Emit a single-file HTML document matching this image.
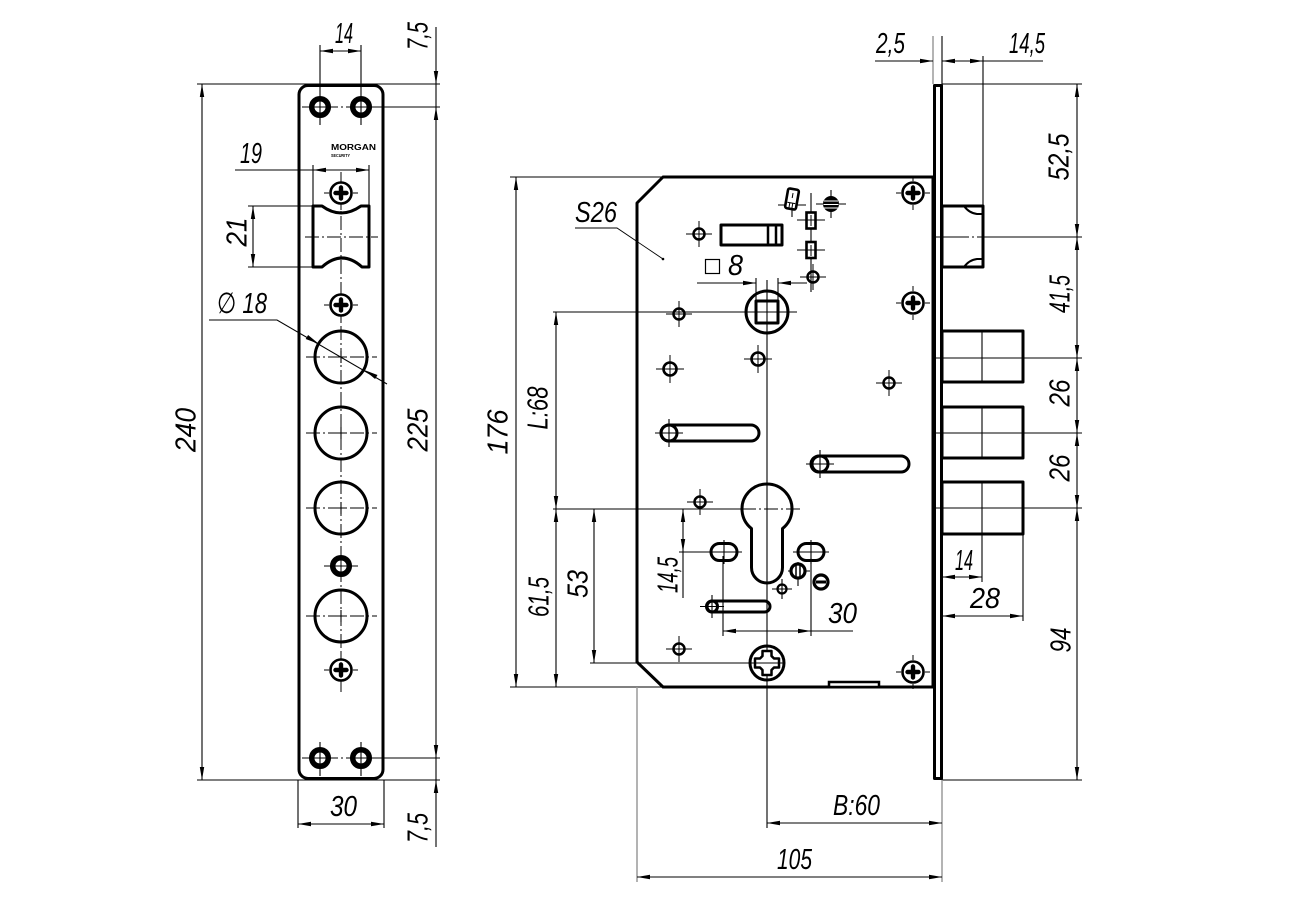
<!DOCTYPE html>
<html><head><meta charset="utf-8"><style>
html,body{margin:0;padding:0;background:#fff;}
svg{display:block}
.o{fill:none;stroke:#000;stroke-width:3;stroke-linejoin:round}
.d{fill:none;stroke:#000;stroke-width:1.1}
.c{fill:none;stroke:#000;stroke-width:1;stroke-dasharray:14 3 2 3}
.g{fill:none;stroke:#9a9a9a;stroke-width:1.5}
.b{marker-start:url(#a);marker-end:url(#a)}
.e{marker-end:url(#a)}
.t{font-family:"Liberation Sans","DejaVu Sans",sans-serif;font-style:italic;font-size:29px;fill:#000}
</style></head><body>
<svg width="1291" height="912" viewBox="0 0 1291 912" xmlns="http://www.w3.org/2000/svg">
<defs>
<marker id="a" viewBox="-14 -3 15 6" refX="0" refY="0" markerWidth="15" markerHeight="6" markerUnits="userSpaceOnUse" orient="auto-start-reverse"><path d="M0,0L-13,-2.2L-13,2.2Z" fill="#000"/></marker>
<g id="ring"><circle r="8.3" fill="none" stroke="#000" stroke-width="5.5"/><path d="M-6,0H6M0,-6V6" stroke="#000" stroke-width="1"/></g>
<g id="scr"><circle r="10.5" fill="#fff" stroke="#000" stroke-width="2.6"/><path d="M-5.5,0H5.5M0,-5.5V5.5" stroke="#000" stroke-width="4.4" stroke-linecap="round"/><path d="M-17,0H-12M12,0H17M0,-17V-12M0,12V17" stroke="#000" stroke-width="1"/></g>
<g id="h"><circle r="5.5" fill="none" stroke="#000" stroke-width="2.5"/><path d="M-13,0H13M0,-13V13" stroke="#000" stroke-width="1"/></g>
<g id="hb"><circle r="6.5" fill="none" stroke="#000" stroke-width="2.6"/><path d="M-14,0H14M0,-14V14" stroke="#000" stroke-width="1"/></g>
</defs>

<!-- ================= LEFT FACEPLATE ================= -->
<rect class="o" x="299" y="85.5" width="84" height="693" rx="9"/>
<line class="c" x1="341" y1="172" x2="341" y2="692"/>

<line class="d" x1="320" y1="45" x2="320" y2="125"/>
<line class="d" x1="361" y1="45" x2="361" y2="125"/>
<line class="c" x1="302" y1="107" x2="352" y2="107"/>
<line class="d" x1="361" y1="107" x2="440" y2="107"/>
<use href="#ring" x="320" y="107"/><use href="#ring" x="361" y="107"/>
<line class="d" x1="320" y1="742" x2="320" y2="776"/>
<line class="d" x1="361" y1="742" x2="361" y2="776"/>
<line class="c" x1="302" y1="758" x2="352" y2="758"/>
<line class="d" x1="361" y1="758" x2="440" y2="758"/>
<use href="#ring" x="320" y="758"/><use href="#ring" x="361" y="758"/>

<line class="d b" x1="320" y1="51" x2="361" y2="51"/>
<text class="t" x="335" y="43" textLength="18" lengthAdjust="spacingAndGlyphs">14</text>

<line class="d" x1="197" y1="84" x2="440" y2="84"/>
<line class="d" x1="197" y1="780" x2="440" y2="780"/>
<line class="d b" x1="202" y1="84" x2="202" y2="780"/>
<text class="t" transform="translate(185,430) rotate(-90)" x="0" y="10.5" text-anchor="middle" textLength="44" lengthAdjust="spacingAndGlyphs">240</text>

<line class="d e" x1="436" y1="27" x2="436" y2="84"/>
<line class="d" x1="436" y1="84" x2="436" y2="107"/>
<line class="d b" x1="436" y1="107" x2="436" y2="758"/>
<line class="d" x1="436" y1="758" x2="436" y2="780"/>
<line class="d e" x1="436" y1="847" x2="436" y2="780"/>
<text class="t" transform="translate(417,36) rotate(-90)" x="0" y="10.5" text-anchor="middle" textLength="28" lengthAdjust="spacingAndGlyphs">7,5</text>
<text class="t" transform="translate(417,430) rotate(-90)" x="0" y="10.5" text-anchor="middle" textLength="43" lengthAdjust="spacingAndGlyphs">225</text>
<text class="t" transform="translate(417,828) rotate(-90)" x="0" y="10.5" text-anchor="middle" textLength="30" lengthAdjust="spacingAndGlyphs">7,5</text>

<line class="d" x1="298" y1="780" x2="298" y2="828"/>
<line class="d" x1="384" y1="780" x2="384" y2="828"/>
<line class="d b" x1="298" y1="824" x2="384" y2="824"/>
<text class="t" x="330" y="816" textLength="27" lengthAdjust="spacingAndGlyphs">30</text>

<text x="331" y="150" font-family="Liberation Sans, sans-serif" font-weight="bold" font-size="8" textLength="45" lengthAdjust="spacingAndGlyphs">MORGAN</text>
<text x="331" y="157" font-family="Liberation Sans, sans-serif" font-weight="bold" font-size="4.5" textLength="19" lengthAdjust="spacingAndGlyphs">SECURITY</text>

<line class="d" x1="235" y1="170" x2="313" y2="170"/>
<line class="d b" x1="313" y1="170" x2="369" y2="170"/>
<line class="d" x1="313" y1="165" x2="313" y2="206"/>
<line class="d" x1="369" y1="165" x2="369" y2="206"/>
<text class="t" x="240" y="163" textLength="22" lengthAdjust="spacingAndGlyphs">19</text>

<use href="#scr" x="341" y="193"/>

<path class="o" d="M313,206H322Q341,220 361,206H369V267H362Q342,249 322,267H313Z"/>
<line class="c" x1="305" y1="237" x2="378" y2="237"/>
<line class="d" x1="248" y1="206" x2="313" y2="206"/>
<line class="d" x1="248" y1="267" x2="313" y2="267"/>
<line class="d b" x1="253" y1="206" x2="253" y2="267"/>
<text class="t" transform="translate(236,232) rotate(-90)" x="0" y="10.5" text-anchor="middle" textLength="29" lengthAdjust="spacingAndGlyphs">21</text>

<use href="#scr" x="341" y="305"/>

<line class="c" x1="306" y1="357" x2="377" y2="357"/>
<line class="c" x1="306" y1="433" x2="377" y2="433"/>
<line class="c" x1="306" y1="508" x2="377" y2="508"/>
<line class="c" x1="306" y1="616" x2="377" y2="616"/>
<circle class="o" cx="341" cy="357" r="26"/>
<circle class="o" cx="341" cy="433" r="26"/>
<circle class="o" cx="341" cy="508" r="26"/>
<circle class="o" cx="341" cy="616" r="26"/>
<path class="d" d="M335,357h12M341,351v12M335,433h12M341,427v12M335,508h12M341,502v12M335,616h12M341,610v12"/>

<line class="c" x1="324" y1="566" x2="358" y2="566"/>
<use href="#ring" x="341" y="566"/>
<use href="#scr" x="341" y="670"/>

<path class="d" d="M209,320H277L387,384"/>
<polygon points="319,344 305.7,339 308.1,335" fill="#000"/>
<polygon points="364.2,370 375.1,379 377.5,375" fill="#000"/>
<text class="t" x="217" y="313" textLength="50" lengthAdjust="spacingAndGlyphs">∅ 18</text>

<!-- ================= RIGHT LOCK BODY ================= -->
<path class="o" d="M663,177H933V687H663L637,662V203Z"/>
<rect class="o" x="934.5" y="85.5" width="7" height="693" stroke-width="2.6"/>

<line class="d" x1="510" y1="177" x2="663" y2="177"/>
<line class="d" x1="510" y1="687" x2="663" y2="687"/>
<line class="d b" x1="516" y1="177" x2="516" y2="687"/>
<line class="d" x1="553" y1="312" x2="797" y2="312"/>
<line class="d" x1="553" y1="509" x2="742" y2="509"/>
<line class="c" x1="742" y1="509" x2="800" y2="509"/>
<line class="d" x1="590" y1="663" x2="785" y2="663"/>
<line class="d b" x1="556" y1="312" x2="556" y2="509"/>
<line class="d b" x1="556" y1="509" x2="556" y2="687"/>
<line class="d b" x1="594" y1="509" x2="594" y2="663"/>
<text class="t" transform="translate(497,432) rotate(-90)" x="0" y="10.5" text-anchor="middle" textLength="45" lengthAdjust="spacingAndGlyphs">176</text>
<text class="t" transform="translate(537,408) rotate(-90)" x="0" y="10.5" text-anchor="middle" textLength="43" lengthAdjust="spacingAndGlyphs">L:68</text>
<text class="t" transform="translate(538,597) rotate(-90)" x="0" y="10.5" text-anchor="middle" textLength="40" lengthAdjust="spacingAndGlyphs">61,5</text>
<text class="t" transform="translate(577,584) rotate(-90)" x="0" y="10.5" text-anchor="middle" textLength="28" lengthAdjust="spacingAndGlyphs">53</text>

<text class="t" x="575" y="222" textLength="42" lengthAdjust="spacingAndGlyphs">S26</text>
<path d="M575,228H617L663,259" fill="none" stroke="#000" stroke-width="0.9"/>
<circle cx="663" cy="259" r="1.3" fill="#000"/>

<line class="g" x1="933" y1="36" x2="933" y2="84"/>
<line class="d" x1="942" y1="36" x2="942" y2="84"/>
<line class="d" x1="983" y1="56" x2="983" y2="206"/>
<line class="d e" x1="875" y1="61" x2="933" y2="61"/>
<line class="d b" x1="942" y1="61" x2="983" y2="61"/>
<line class="d" x1="983" y1="61" x2="1043" y2="61"/>
<text class="t" x="876" y="53" textLength="29" lengthAdjust="spacingAndGlyphs">2,5</text>
<text class="t" x="1009" y="53" textLength="36" lengthAdjust="spacingAndGlyphs">14,5</text>

<line class="d" x1="942" y1="84" x2="1082" y2="84"/>
<line class="d" x1="942" y1="780" x2="1082" y2="780"/>
<line class="d b" x1="1077" y1="84" x2="1077" y2="237"/>
<line class="d b" x1="1077" y1="237" x2="1077" y2="358"/>
<line class="d b" x1="1077" y1="358" x2="1077" y2="433"/>
<line class="d b" x1="1077" y1="433" x2="1077" y2="508"/>
<line class="d b" x1="1077" y1="508" x2="1077" y2="780"/>
<text class="t" transform="translate(1058,157) rotate(-90)" x="0" y="10.5" text-anchor="middle" textLength="47" lengthAdjust="spacingAndGlyphs">52,5</text>
<text class="t" transform="translate(1059,294) rotate(-90)" x="0" y="10.5" text-anchor="middle" textLength="38" lengthAdjust="spacingAndGlyphs">41,5</text>
<text class="t" transform="translate(1059,393) rotate(-90)" x="0" y="10.5" text-anchor="middle" textLength="27" lengthAdjust="spacingAndGlyphs">26</text>
<text class="t" transform="translate(1059,468) rotate(-90)" x="0" y="10.5" text-anchor="middle" textLength="27" lengthAdjust="spacingAndGlyphs">26</text>
<text class="t" transform="translate(1060,640) rotate(-90)" x="0" y="10.5" text-anchor="middle" textLength="25" lengthAdjust="spacingAndGlyphs">94</text>

<line class="d" x1="932" y1="237" x2="955" y2="237"/>
<line class="c" x1="955" y1="237" x2="983" y2="237"/>
<line class="d" x1="983" y1="237" x2="1082" y2="237"/>
<rect class="o" x="942" y="206" width="41" height="61"/>
<path d="M964,206Q969,213 977,214H983M964,267Q969,260 977,259H983" fill="none" stroke="#000" stroke-width="2"/>

<line class="d" x1="932" y1="358" x2="1082" y2="358"/>
<line class="d" x1="932" y1="433" x2="1082" y2="433"/>
<line class="d" x1="932" y1="508" x2="1082" y2="508"/>
<line class="d" x1="982" y1="331" x2="982" y2="382"/>
<line class="d" x1="982" y1="407" x2="982" y2="458"/>
<line class="d" x1="982" y1="482" x2="982" y2="582"/>
<rect class="o" x="942" y="331" width="81" height="51"/>
<rect class="o" x="942" y="407" width="81" height="51"/>
<rect class="o" x="942" y="482" width="81" height="52"/>
<line class="d" x1="1023" y1="534" x2="1023" y2="621"/>
<line class="d b" x1="942" y1="577" x2="982" y2="577"/>
<line class="d b" x1="942" y1="616" x2="1023" y2="616"/>
<text class="t" x="955" y="570" textLength="18" lengthAdjust="spacingAndGlyphs">14</text>
<text class="t" x="970" y="608" textLength="30" lengthAdjust="spacingAndGlyphs">28</text>

<use href="#scr" x="913" y="193"/>
<use href="#scr" x="913" y="303"/>
<use href="#scr" x="913" y="672"/>

<use href="#h" x="699" y="234"/>
<use href="#h" x="813" y="277"/>
<use href="#h" x="679" y="314"/>
<use href="#hb" x="758" y="359"/>
<use href="#hb" x="670" y="369"/>
<use href="#h" x="889" y="383"/>
<use href="#h" x="700" y="502"/>
<use href="#h" x="679" y="649"/>

<rect class="o" x="721" y="225" width="61" height="20"/>
<path d="M768,225V245M776,225V245" stroke="#000" stroke-width="2.5"/>

<path class="d" d="M778,205H806M792,205V217"/>
<g transform="translate(792,199) rotate(10)"><rect x="-5.5" y="-10" width="11" height="20" rx="2" fill="#fff" stroke="#000" stroke-width="2.6"/><path d="M-4,4H4M0,-6V-1M-1.5,4V9M1.5,4V9" stroke="#000" stroke-width="1"/></g>

<path class="d" d="M816,204H846M831,190V218"/>
<circle cx="831" cy="204" r="8" fill="#000"/>
<path d="M824,201H838M823.5,204.5H838.5M824,208H838" stroke="#fff" stroke-width="1"/>

<line class="d" x1="811" y1="193" x2="811" y2="292"/>
<path class="d" d="M797,220H825M797,250H825"/>
<rect x="806.5" y="212.5" width="9" height="16" fill="#fff" stroke="#000" stroke-width="2.6"/>
<rect x="806.5" y="242" width="9" height="16" fill="#fff" stroke="#000" stroke-width="2.6"/>
<path d="M807,220H815M811,215V226M807,250H815M811,245V256" stroke="#000" stroke-width="1"/>

<rect x="705.5" y="259.5" width="14" height="14" fill="none" stroke="#000" stroke-width="1.2"/>
<text class="t" x="728" y="275" textLength="15" lengthAdjust="spacingAndGlyphs">8</text>
<line class="d e" x1="697" y1="283" x2="756" y2="283"/>
<line class="d e" x1="807" y1="283" x2="778" y2="283"/>
<line class="d" x1="756" y1="278" x2="756" y2="300"/>
<line class="d" x1="778" y1="278" x2="778" y2="300"/>

<line class="d" x1="767" y1="280" x2="767" y2="828"/>

<circle class="o" cx="767" cy="312" r="21"/>
<rect class="o" x="756" y="301" width="22" height="22"/>

<path class="d" d="M655,433H683M669,419V447"/>
<rect class="o" x="661" y="425" width="98" height="16" rx="8"/>
<circle class="o" cx="669" cy="433" r="8"/>
<path class="d" d="M806,464H834M820,450V478"/>
<rect class="o" x="811" y="456" width="98" height="16" rx="8"/>
<circle class="o" cx="820" cy="464" r="8"/>
<path class="d" d="M700,606.5H724M712,595V618"/>
<rect class="o" x="707" y="601" width="63" height="11" rx="5.5"/>
<circle class="o" cx="712" cy="606.5" r="5.5"/>

<path class="o" d="M751.5,528.6A25,25 0 1 1 782.5,528.6V567.5A15.5,15.5 0 0 1 751.5,567.5Z"/>

<line class="d b" x1="683" y1="509" x2="683" y2="552"/>
<line class="d" x1="683" y1="552" x2="683" y2="598"/>
<line class="d" x1="679" y1="552" x2="711" y2="552"/>
<text class="t" transform="translate(667,575) rotate(-90)" x="0" y="10.5" text-anchor="middle" textLength="36" lengthAdjust="spacingAndGlyphs">14,5</text>

<path class="d" d="M706,552H742M724,540V564M793,552H829M811,540V564"/>
<rect class="o" x="711" y="543.5" width="26" height="17" rx="8.5"/>
<rect class="o" x="798" y="543.5" width="26" height="17" rx="8.5"/>

<line class="d" x1="723" y1="556" x2="723" y2="636"/>
<line class="d" x1="811" y1="558" x2="811" y2="636"/>
<line class="d b" x1="723" y1="631" x2="811" y2="631"/>
<line class="d" x1="811" y1="631" x2="853" y2="631"/>
<text class="t" x="828" y="623" textLength="29" lengthAdjust="spacingAndGlyphs">30</text>

<path class="d" d="M788,571H810M798,562V586"/>
<circle cx="798" cy="571" r="7" fill="#fff" stroke="#000" stroke-width="3.2"/>
<path d="M796,565V577M800,565V577" stroke="#000" stroke-width="1.5"/>
<circle cx="821" cy="582" r="7" fill="#fff" stroke="#000" stroke-width="3.2"/>
<line x1="816" y1="582" x2="826" y2="582" stroke="#000" stroke-width="3"/>
<path class="d" d="M772,589H792M782,579V599"/>
<circle cx="782" cy="589" r="4.5" fill="none" stroke="#000" stroke-width="2.2"/>

<circle class="o" cx="767" cy="663" r="17"/>
<path transform="translate(767,663)" d="M-4.5,-12H4.5V-7L7,-4.5H12V4.5H7L4.5,7V12H-4.5V7L-7,4.5H-12V-4.5H-7L-4.5,-7Z" fill="#fff" stroke="#000" stroke-width="2.5" stroke-linejoin="round"/>
<path class="d" d="M751,663H783"/>

<rect x="829" y="682" width="50" height="5" fill="#fff" stroke="#000" stroke-width="2.5"/>

<line class="g" x1="637" y1="687" x2="637" y2="882"/>
<line class="g" x1="942" y1="780" x2="942" y2="882"/>
<line class="d b" x1="767" y1="823" x2="942" y2="823"/>
<line class="d b" x1="637" y1="877" x2="942" y2="877"/>
<text class="t" x="833" y="815" textLength="47" lengthAdjust="spacingAndGlyphs">B:60</text>
<text class="t" x="777" y="869" textLength="35" lengthAdjust="spacingAndGlyphs">105</text>
</svg>
</body></html>
